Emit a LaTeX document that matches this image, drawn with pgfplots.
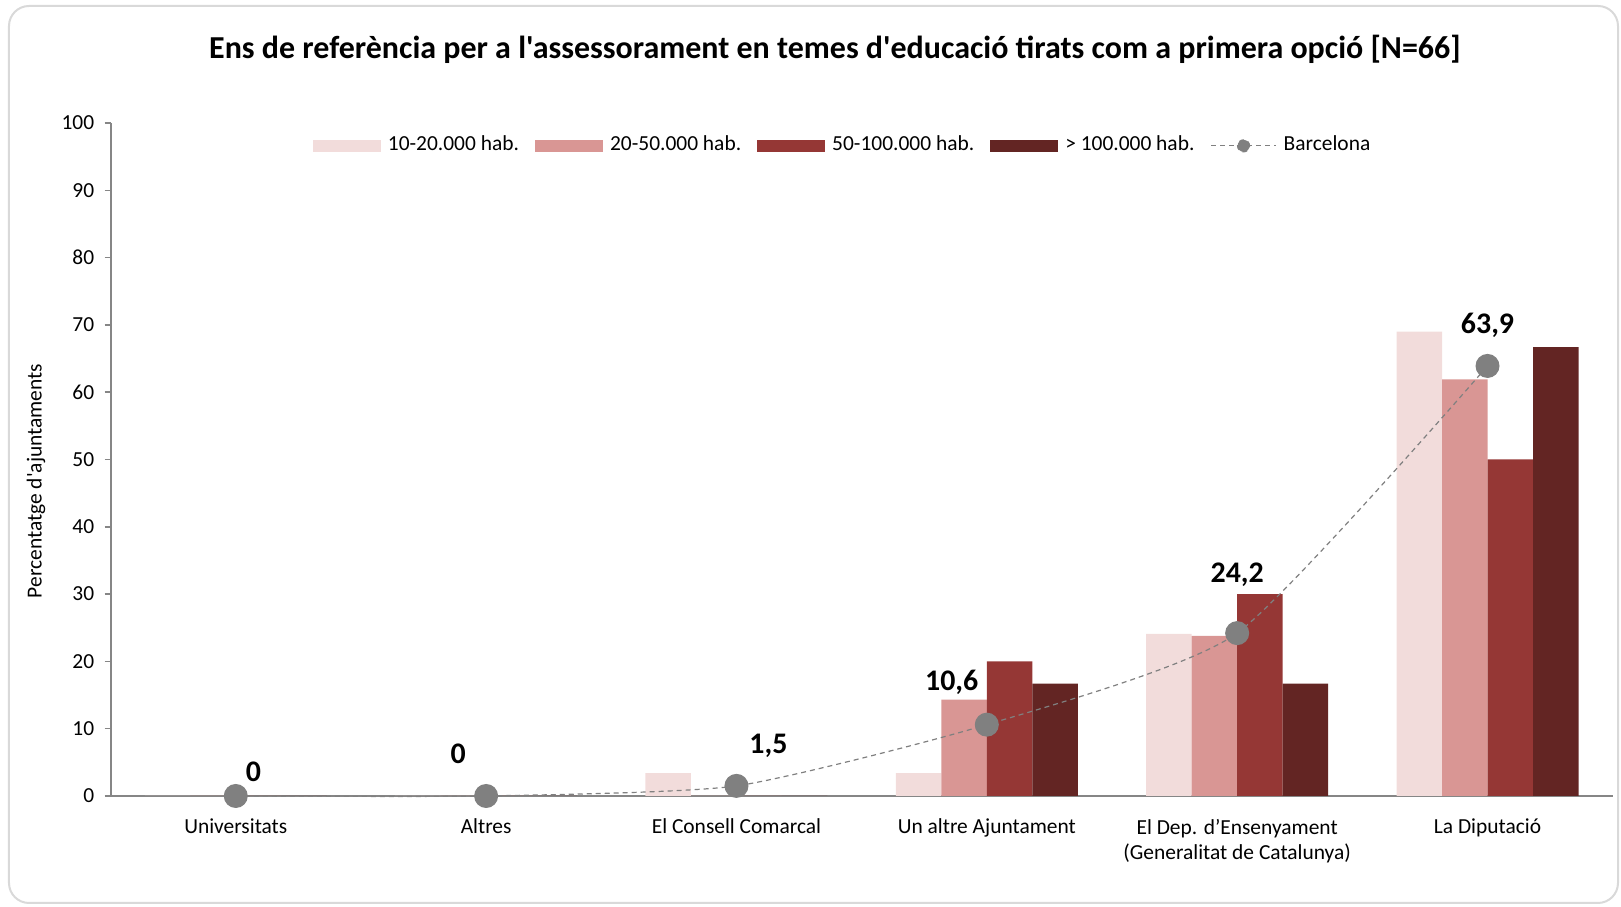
\documentclass[border=0pt]{standalone}
\usepackage{pgfplots}
\pgfplotsset{compat=1.18}
\usepackage{fontspec}
\setmainfont{Carlito}[Ligatures=TeXOff]
\definecolor{cA}{HTML}{F2DCDB}
\definecolor{cB}{HTML}{D99694}
\definecolor{cC}{HTML}{953735}
\definecolor{cD}{HTML}{632523}
\definecolor{bcn}{HTML}{808080}
\definecolor{axgray}{HTML}{868686}
\newcommand{\smallfont}{\fontsize{6.1}{7.3}\selectfont}
\begin{document}
\begin{tikzpicture}
\path[use as bounding box] (0,0) rectangle (162.1mm,90.7mm);
\draw[color=black!15, line width=0.2mm, rounded corners=2mm] (0.9mm,0.4mm) rectangle (161.8mm,90.1mm);
\node[font=\fontsize{9.1}{11}\selectfont\bfseries] at (83.5mm,85.8mm) {Ens de referència per a l'assessorament en temes d'educació tirats com a primera opció [N=66]};
\node[rotate=90, font=\smallfont] at (3.6mm,42.6mm) {Percentatge d'ajuntaments};
\begin{axis}[
  at={(11.06mm,11.1mm)}, anchor=south west,
  scale only axis, width=150.21mm, height=67.3mm,
  xmin=-0.5, xmax=5.5, ymin=0, ymax=100,
  clip=false,
  axis lines*=left,
  x axis line style={draw=axgray, line width=0.25mm},
  y axis line style={draw=axgray, line width=0.18mm},
  xtick={0,1,2,3,4,5},
  xticklabels={Universitats, Altres, El Consell Comarcal, Un altre Ajuntament, {El Dep. d’Ensenyament\\(Generalitat de Catalunya)}, La Diputació},
  xtick style={draw=none},
  xticklabel style={align=center, font=\smallfont, yshift=-0.45mm},
  ytick={0,10,...,100},
  tick align=outside,
  major tick length=0.6mm,
  ytick style={draw=axgray, line width=0.15mm},
  yticklabel style={font=\smallfont, xshift=0.2mm},
  /pgf/number format/assume math mode=true,
  legend style={at={(0.489,0.966)}, anchor=center, draw=none, fill=none,
    legend columns=-1, font=\smallfont,
    /tikz/every even column/.append style={column sep=0.9mm}},
]
\addplot[ybar, bar width=4.55mm, bar shift=-6.825mm, fill=cA, draw=none,
  legend image code/.code={\fill[cA] (0mm,-0.6mm) rectangle (6.8mm,0.6mm);}]
  coordinates {(0,0) (1,0) (2,3.4) (3,3.4) (4,24.1) (5,69.0)};
\addlegendentry{10-20.000 hab.}
\addplot[ybar, bar width=4.55mm, bar shift=-2.275mm, fill=cB, draw=none,
  legend image code/.code={\fill[cB] (0mm,-0.6mm) rectangle (6.8mm,0.6mm);}]
  coordinates {(0,0) (1,0) (2,0) (3,14.3) (4,23.8) (5,61.9)};
\addlegendentry{20-50.000 hab.}
\addplot[ybar, bar width=4.55mm, bar shift=2.275mm, fill=cC, draw=none,
  legend image code/.code={\fill[cC] (0mm,-0.6mm) rectangle (6.8mm,0.6mm);}]
  coordinates {(0,0) (1,0) (2,0) (3,20.0) (4,30.0) (5,50.0)};
\addlegendentry{50-100.000 hab.}
\addplot[ybar, bar width=4.55mm, bar shift=6.825mm, fill=cD, draw=none,
  legend image code/.code={\fill[cD] (0mm,-0.6mm) rectangle (6.8mm,0.6mm);}]
  coordinates {(0,0) (1,0) (2,0) (3,16.7) (4,16.7) (5,66.7)};
\addlegendentry{> 100.000 hab.}
\addplot[bcn, line width=0.12mm, dash pattern=on 0.5mm off 0.4mm, smooth, tension=0.35,
  mark=*, mark size=1.14mm, mark options={solid, fill=bcn, draw=none},
  legend image code/.code={\draw[bcn, line width=0.12mm, dash pattern=on 0.5mm off 0.4mm] (0mm,0mm) -- (6.5mm,0mm); \fill[bcn] (3.25mm,0mm) circle (0.6mm);}]
  coordinates {(0,0) (1,0) (2,1.5) (3,10.6) (4,24.2) (5,63.9)};
\addlegendentry{Barcelona}
\begin{scope}[every node/.style={font=\fontsize{8.5}{9}\selectfont\bfseries}]
\node[xshift=1.76mm, yshift=2.38mm] at (axis cs:0,0) {0};
\node[xshift=-2.79mm, yshift=4.24mm] at (axis cs:1,0) {0};
\node[xshift=3.2mm, yshift=4.03mm] at (axis cs:2,1.5) {1,5};
\node[xshift=-3.51mm, yshift=4.24mm] at (axis cs:3,10.6) {10,6};
\node[xshift=0mm, yshift=5.79mm] at (axis cs:4,24.2) {24,2};
\node[xshift=0mm, yshift=4.03mm] at (axis cs:5,63.9) {63,9};
\end{scope}
\end{axis}
\end{tikzpicture}
\end{document}
